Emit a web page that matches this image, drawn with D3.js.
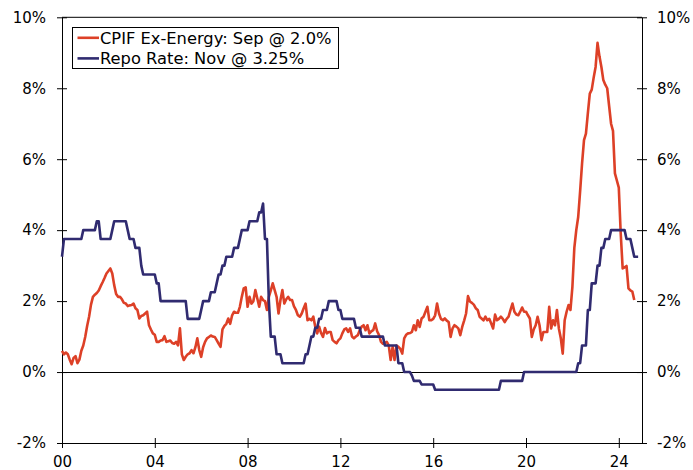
<!DOCTYPE html>
<html>
<head>
<meta charset="utf-8">
<script src="https://cdn.jsdelivr.net/npm/d3@7"></script>
<style>
  body { margin: 0; background: #fff; }
  svg { display: block; font-family: "DejaVu Sans", Verdana, sans-serif; }
</style>
</head>
<body>
<svg id="chart" width="693" height="470"></svg>
<script>
// monthly series, both start Jan 2000
const START_YEAR = 2000;

// CPIF ex-energy, y/y %, Jan 2000 - Sep 2024
const cpif = [
  0.6, 0.5, 0.55, 0.5, 0.35, 0.22, 0.4, 0.45, 0.25, 0.35, 0.6, 0.75,      // 2000
  0.99, 1.3, 1.56, 1.9, 2.12, 2.18, 2.23, 2.3, 2.42, 2.53, 2.65, 2.78,    // 2001
  2.85, 2.92, 2.78, 2.45, 2.2, 2.12, 2.12, 2.05, 1.95, 1.93, 1.86, 1.88,  // 2002
  1.89, 1.93, 1.8, 1.75, 1.51, 1.58, 1.6, 1.65, 1.7, 1.32, 1.2, 1.09,     // 2003
  1.05, 0.85, 0.85, 0.89, 0.9, 1.01, 0.85, 0.87, 0.89, 0.82, 0.8, 0.85,   // 2004
  0.75, 1.23, 0.5, 0.34, 0.43, 0.5, 0.53, 0.62, 0.53, 0.7, 0.95, 0.62,    // 2005
  0.43, 0.7, 0.85, 0.95, 0.99, 1.03, 1.0, 0.99, 0.9, 0.8, 0.71, 1.2,      // 2006
  1.3, 1.36, 1.51, 1.36, 1.6, 1.7, 1.67, 1.67, 1.84, 2.12, 2.36, 2.39,    // 2007
  1.84, 2.12, 1.93, 2.0, 2.31, 2.08, 1.84, 2.12, 2.03, 2.0, 1.75, 2.12,   // 2008
  2.3, 2.5, 2.31, 2.12, 1.65, 2.03, 2.31, 1.93, 2.05, 2.12, 2.03, 2.03,   // 2009
  1.85, 1.75, 1.6, 1.56, 1.65, 1.8, 1.93, 1.46, 1.5, 1.46, 1.56, 1.28,    // 2010
  1.09, 1.28, 1.1, 0.99, 1.24, 1.09, 1.13, 1.13, 0.9, 0.85, 0.81, 0.9,    // 2011
  0.95, 1.09, 1.2, 1.23, 1.13, 1.23, 1.0, 0.95, 1.0, 1.04, 1.18, 1.28,    // 2012
  1.32, 1.18, 1.32, 1.09, 1.15, 1.18, 1.37, 1.15, 1.04, 0.85, 0.8, 0.82,  // 2013
  0.85, 0.75, 0.34, 0.71, 0.34, 0.75, 0.71, 0.65, 0.52, 0.95, 1.05, 1.09, // 2014
  1.1, 1.13, 1.32, 1.18, 1.46, 1.27, 1.51, 1.56, 1.7, 1.84, 1.46, 1.46,   // 2015
  1.5, 1.6, 1.93, 1.65, 1.5, 1.46, 1.51, 1.45, 1.41, 0.99, 1.23, 1.32,    // 2016
  1.28, 1.23, 1.04, 1.27, 1.45, 1.65, 2.14, 1.99, 1.95, 1.9, 1.8, 1.75,   // 2017
  1.56, 1.51, 1.46, 1.56, 1.46, 1.5, 1.37, 1.23, 1.62, 1.46, 1.5, 1.56,   // 2018
  1.5, 1.41, 1.5, 1.56, 1.75, 1.93, 1.7, 1.62, 1.6, 1.7, 1.82, 1.7,       // 2019
  1.7, 1.6, 1.51, 0.99, 1.2, 1.32, 1.56, 1.32, 0.9, 1.13, 1.13, 1.13,     // 2020
  1.84, 1.23, 1.46, 1.32, 1.75, 1.23, 0.95, 0.52, 1.46, 1.7, 1.89, 1.75,  // 2021
  2.4, 3.5, 4.0, 4.37, 5.1, 5.88, 6.54, 6.72, 7.3, 7.85, 7.96, 8.3,       // 2022
  8.6, 9.28, 8.9, 8.6, 8.23, 8.1, 8.0, 7.5, 7.0, 6.8, 5.6, 5.4,           // 2023
  5.2, 3.9, 2.92, 2.95, 2.99, 2.36, 2.3, 2.27, 2.03                       // 2024
];

// Riksbank repo rate, %, Jan 2000 - Nov 2024
const repo = [
  3.25, 3.75, 3.75, 3.75, 3.75, 3.75, 3.75, 3.75, 3.75, 3.75, 3.75, 4.0,  // 2000
  4.0, 4.0, 4.0, 4.0, 4.0, 4.0, 4.25, 4.25, 3.75, 3.75, 3.75, 3.75,       // 2001
  3.75, 3.75, 4.0, 4.25, 4.25, 4.25, 4.25, 4.25, 4.25, 4.25, 4.0, 3.75,   // 2002
  3.75, 3.75, 3.5, 3.5, 3.5, 3.0, 2.75, 2.75, 2.75, 2.75, 2.75, 2.75,     // 2003
  2.75, 2.5, 2.5, 2.0, 2.0, 2.0, 2.0, 2.0, 2.0, 2.0, 2.0, 2.0,            // 2004
  2.0, 2.0, 2.0, 2.0, 2.0, 1.5, 1.5, 1.5, 1.5, 1.5, 1.5, 1.5,             // 2005
  1.75, 2.0, 2.0, 2.0, 2.0, 2.25, 2.25, 2.25, 2.5, 2.75, 2.75, 3.0,       // 2006
  3.0, 3.25, 3.25, 3.25, 3.25, 3.5, 3.5, 3.5, 3.75, 4.0, 4.0, 4.0,        // 2007
  4.0, 4.25, 4.25, 4.25, 4.25, 4.25, 4.5, 4.5, 4.75, 3.75, 3.75, 2.0,     // 2008
  1.0, 1.0, 1.0, 0.5, 0.5, 0.5, 0.25, 0.25, 0.25, 0.25, 0.25, 0.25,       // 2009
  0.25, 0.25, 0.25, 0.25, 0.25, 0.25, 0.5, 0.5, 0.75, 1.0, 1.0, 1.25,     // 2010
  1.25, 1.5, 1.5, 1.75, 1.75, 1.75, 2.0, 2.0, 2.0, 2.0, 2.0, 1.75,        // 2011
  1.75, 1.5, 1.5, 1.5, 1.5, 1.5, 1.5, 1.5, 1.25, 1.25, 1.25, 1.0,         // 2012
  1.0, 1.0, 1.0, 1.0, 1.0, 1.0, 1.0, 1.0, 1.0, 1.0, 1.0, 0.75,            // 2013
  0.75, 0.75, 0.75, 0.75, 0.75, 0.75, 0.25, 0.25, 0.25, 0.0, 0.0, 0.0,    // 2014
  0.0, -0.1, -0.25, -0.25, -0.25, -0.25, -0.35, -0.35, -0.35, -0.35, -0.35, -0.35, // 2015
  -0.35, -0.5, -0.5, -0.5, -0.5, -0.5, -0.5, -0.5, -0.5, -0.5, -0.5, -0.5, // 2016
  -0.5, -0.5, -0.5, -0.5, -0.5, -0.5, -0.5, -0.5, -0.5, -0.5, -0.5, -0.5,  // 2017
  -0.5, -0.5, -0.5, -0.5, -0.5, -0.5, -0.5, -0.5, -0.5, -0.5, -0.5, -0.25, // 2018
  -0.25, -0.25, -0.25, -0.25, -0.25, -0.25, -0.25, -0.25, -0.25, -0.25, -0.25, 0.0, // 2019
  0, 0, 0, 0, 0, 0, 0, 0, 0, 0, 0, 0,                                     // 2020
  0, 0, 0, 0, 0, 0, 0, 0, 0, 0, 0, 0,                                     // 2021
  0, 0, 0, 0.25, 0.25, 0.75, 0.75, 0.75, 1.75, 1.75, 2.5, 2.5,            // 2022
  2.5, 3.0, 3.0, 3.5, 3.5, 3.75, 3.75, 3.75, 4.0, 4.0, 4.0, 4.0,          // 2023
  4.0, 4.0, 4.0, 4.0, 3.75, 3.75, 3.75, 3.5, 3.25, 3.25, 3.25             // 2024
];

const yTicks = [-2, 0, 2, 4, 6, 8, 10];
const xTicks = [2000, 2004, 2008, 2012, 2016, 2020, 2024];
const xTickLabels = ['00', '04', '08', '12', '16', '20', '24'];
const seriesNames = ['CPIF Ex-Energy: Sep @ 2.0%', 'Repo Rate: Nov @ 3.25%'];
const seriesColors = ['#dd4027', '#302b70'];

const svg = d3.select('#chart');
const plot = { left: 62, right: 642, top: 17.3, bottom: 443 };

const x = d3.scaleLinear().domain([2000, 2025]).range([plot.left, plot.right]);
const y = d3.scaleLinear().domain([-2, 10]).range([plot.bottom, plot.top]);

// top border and zero line
svg.append('line')
  .attr('x1', plot.left).attr('x2', plot.right)
  .attr('y1', plot.top).attr('y2', plot.top)
  .attr('stroke', '#000').attr('stroke-width', 1);

const zeroY = Math.round(y(0)) + 0.5;
svg.append('line')
  .attr('x1', plot.left).attr('x2', plot.right)
  .attr('y1', zeroY).attr('y2', zeroY)
  .attr('stroke', '#000').attr('stroke-width', 1);

// axes
const styleAxis = (g) => {
  g.attr('font-family', null).attr('font-size', null);
  g.selectAll('text').attr('font-size', 15).attr('fill', '#000');
  g.selectAll('path, line').attr('stroke', '#000');
};

svg.append('g')
  .attr('transform', `translate(${plot.left},0)`)
  .call(d3.axisLeft(y).tickValues(yTicks).tickFormat(d => d + '%')
    .tickSize(5).tickSizeOuter(0).tickPadding(11))
  .call(styleAxis)
  .call(g => g.selectAll('.tick line').attr('x1', 5));

svg.append('g')
  .attr('transform', `translate(${plot.right},0)`)
  .call(d3.axisRight(y).tickValues(yTicks).tickFormat(d => d + '%')
    .tickSize(5).tickSizeOuter(0).tickPadding(10))
  .call(styleAxis)
  .call(g => g.selectAll('.tick line').attr('x1', -5));

svg.append('g')
  .attr('transform', `translate(0,${plot.bottom})`)
  .call(d3.axisBottom(x).tickValues(xTicks).tickFormat((d, i) => xTickLabels[i])
    .tickSize(5).tickSizeOuter(0).tickPadding(8))
  .call(styleAxis)
  .call(g => g.selectAll('.tick line').attr('y1', -5));

// series
const line = d3.line()
  .x((d, i) => x(START_YEAR + i / 12))
  .y(d => y(d))
  .curve(d3.curveLinear);

[cpif, repo].forEach((s, k) => {
  svg.append('path')
    .datum(s)
    .attr('fill', 'none')
    .attr('stroke', seriesColors[k])
    .attr('stroke-width', 2.6)
    .attr('stroke-linejoin', 'round')
    .attr('d', line);
});

// legend
const legend = svg.append('g');
legend.append('rect')
  .attr('x', 72.5).attr('y', 27.5)
  .attr('width', 266).attr('height', 41)
  .attr('fill', '#fff').attr('stroke', '#000').attr('stroke-width', 1);

seriesNames.forEach((name, k) => {
  const ly = 37.8 + k * 20.6;
  legend.append('line')
    .attr('x1', 77.5).attr('x2', 99)
    .attr('y1', ly).attr('y2', ly)
    .attr('stroke', seriesColors[k]).attr('stroke-width', 2.6);
  legend.append('text')
    .attr('x', 100).attr('y', ly).attr('dy', '0.36em')
    .attr('font-size', 16.3).attr('fill', '#000')
    .text(name);
});
</script>
</body>
</html>
